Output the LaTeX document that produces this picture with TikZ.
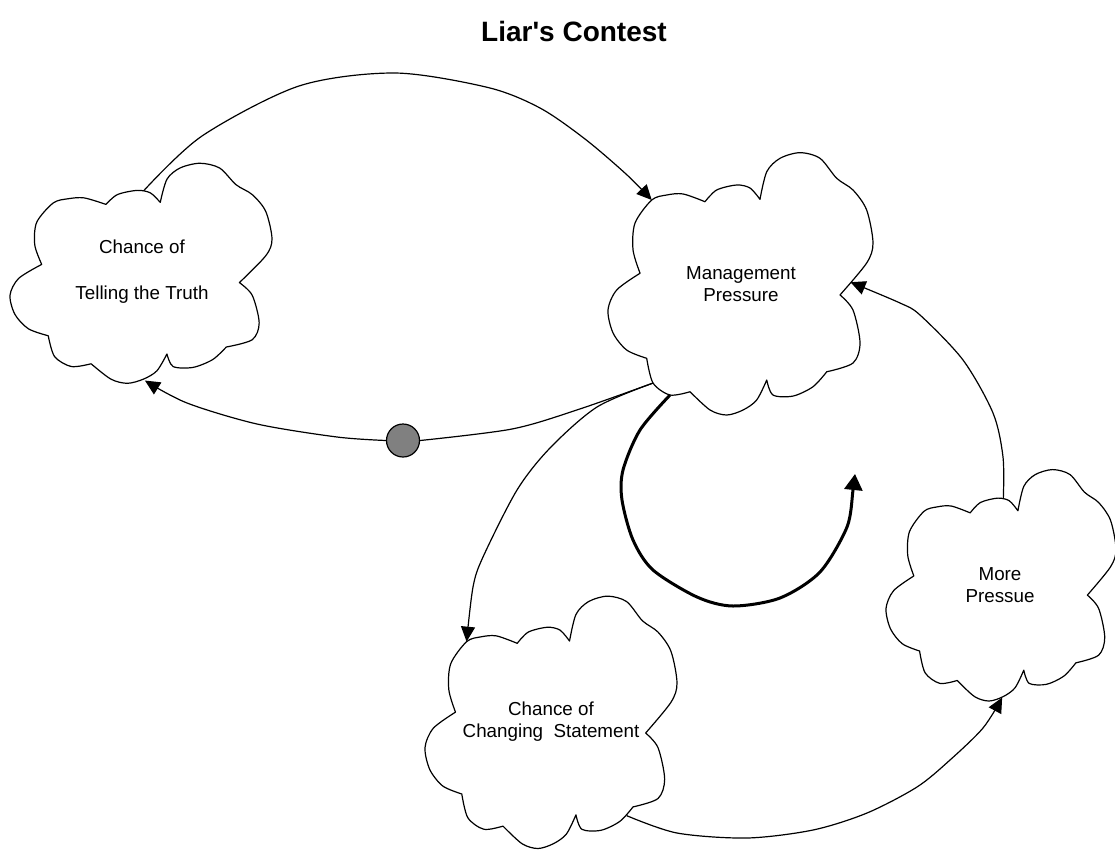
\documentclass[tikz,border=0pt]{standalone}
\usepackage{fontspec}
\newfontfamily\arial{Liberation Sans}
\usetikzlibrary{arrows.meta}
\newcommand{\cloudshape}{%
 plot[smooth] coordinates {(-0.758,-0.078) (-0.811,-0.255) (-0.796,-0.460) (-0.670,-0.635) (-0.557,-0.673) (-0.434,-0.681) (-0.268,-0.622)}
 -- plot[smooth] coordinates {(-0.268,-0.622) (-0.180,-0.711) (-0.029,-0.749) (0.072,-0.726) (0.147,-0.640)}
 -- plot[smooth] coordinates {(0.147,-0.640) (0.198,-0.850) (0.298,-0.952) (0.449,-0.995) (0.600,-0.952) (0.726,-0.800) (0.849,-0.711) (0.952,-0.559) (1.0,-0.308) (0.952,-0.156) (0.751,0.087)}
 -- plot[smooth] coordinates {(0.751,0.087) (0.849,0.202) (0.902,0.452) (0.849,0.605) (0.651,0.671)}
 -- plot[smooth] coordinates {(0.651,0.671) (0.547,0.785) (0.396,0.856) (0.245,0.848) (0.198,0.734)}
 -- plot[smooth] coordinates {(0.198,0.734) (0.122,0.886) (0.019,0.962) (-0.104,1.0) (-0.230,0.962) (-0.381,0.823)}
 -- plot[smooth] coordinates {(-0.381,0.823) (-0.532,0.848) (-0.660,0.757) (-0.708,0.569)}
 -- plot[smooth] coordinates {(-0.708,0.569) (-0.859,0.506) (-0.962,0.376) (-1.0,0.202) (-0.934,0.049) (-0.758,-0.078)}
 -- cycle}
\begin{document}
\begin{tikzpicture}[x=1pt,y=-1pt,
  cloudline/.style={line width=1.2pt, line join=round},
  lbl/.style={align=center, font=\arial\fontsize{18.8}{22.5}\selectfont, inner sep=0pt},
  conn/.style={line width=1.2pt},
  arr/.style={line width=1.2pt, -{Triangle[length=15pt,width=14pt]}},
  thickarr/.style={line width=3pt, -{Triangle[length=16pt,width=18pt]}}]
\useasboundingbox (0,0) rectangle (1115,849);

% title
\node[font=\arial\bfseries\fontsize{28}{32}\selectfont, inner sep=0pt] (title) at (574,31) {Liar's Contest};

% Chance of Telling the Truth
\begin{scope}[shift={(141,273)}, xscale=131, yscale=110.3]
  \draw[cloudline] \cloudshape;
  \coordinate (tt-top) at (0.02,-0.745);
  \coordinate (tt-bot) at (0.03,0.975);
\end{scope}
\node[lbl] (tt) at (142,271.5) {Chance of\\[24pt]Telling the Truth};

% Management Pressure
\begin{scope}[shift={(740.5,283.5)}, xscale=132.5, yscale=131.5]
  \draw[cloudline] \cloudshape;
  \coordinate (mp-in) at (-0.670,-0.635);
  \coordinate (mp-out) at (-0.660,0.757);
  \coordinate (mp-loop) at (-0.532,0.848);
  \coordinate (mp-right) at (0.83,-0.01);
\end{scope}
\node[lbl] (mp) at (741,284) {Management\\Pressure};

% Chance of Changing Statement
\begin{scope}[shift={(551,722)}, xscale=126, yscale=126.5]
  \draw[cloudline] \cloudshape;
  \coordinate (cs-in) at (-0.670,-0.635);
  \coordinate (cs-out) at (0.6,0.74);
\end{scope}
\node[lbl] (cs) at (551,721.5) {Chance of\\Changing\ \ Statement};

% More Pressue
\begin{scope}[shift={(1001,585)}, xscale=115, yscale=116]
  \draw[cloudline] \cloudshape;
  \coordinate (mo-top) at (0.02,-0.74);
  \coordinate (mo-bot) at (0.01,0.97);
\end{scope}
\node[lbl] (mo) at (1000,585) {More\\Pressue};

% valve
\node[circle, draw, fill=gray, line width=1.2pt, minimum size=33pt, inner sep=0pt] (valve) at (403,440.5) {};

% connectors
\draw[arr] plot[smooth] coordinates {(tt-top) (202,136) (299,86) (395,73) (488,87.5) (540,108) (585,139) (626,174) (mp-in)};
\draw[conn] plot[smooth] coordinates {(mp-out) (578,409.6) (512,429) (valve.east)};
\draw[arr] plot[smooth] coordinates {(valve.west) (337,437) (257,424) (187,403) (tt-bot)};
\draw[arr] plot[smooth] coordinates {(mp-out) (597,407) (550,448) (517,490) (483,557) (473,587) (cs-in)};
\coordinate (loopend) at (855,474);
\draw[thickarr] plot[smooth] coordinates {(mp-loop) (640,430) (623,470) (622,500) (633,540) (653,570) (697,597) (733,606) (780,598) (820,572) (847,527) (853,490) (loopend)};
\draw[arr] plot[smooth] coordinates {(cs-out) (677,833) (747,838) (813,830) (867,813) (917,787) (950,760) (983,728) (mo-bot)};
\draw[arr] plot[smooth] coordinates {(mo-top) (1003,457) (993,413) (963,360) (920,315) (900,303) (mp-right)};
\end{tikzpicture}
\end{document}
